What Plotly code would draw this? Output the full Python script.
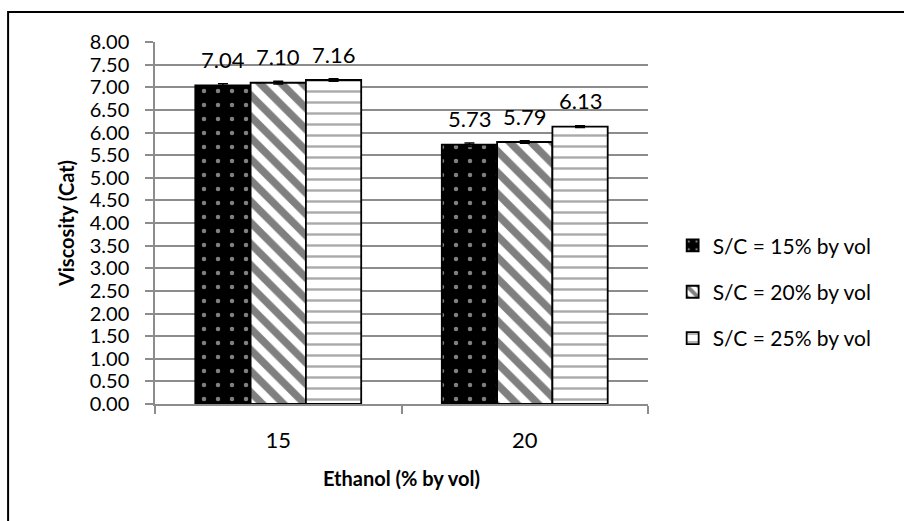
import plotly.graph_objects as go

# Chart data
ethanol = ["15", "20"]
series_names = ["S/C = 15% by vol", "S/C = 20% by vol", "S/C = 25% by vol"]
viscosity = [
    [7.04, 5.73],
    [7.10, 5.79],
    [7.16, 6.13],
]
errors = [
    [0.04, 0.04],
    [0.03, 0.03],
    [0.03, 0.02],
]
y_ticks = [i * 0.5 for i in range(17)]
y_tick_labels = [f"{v:.2f}" for v in y_ticks]

FONT = "Lato"
GRID = "#8c8c8c"

patterns = [
    dict(shape=".", bgcolor="black", fgcolor="white", size=14, solidity=0.08),
    dict(shape="\\", bgcolor="white", fgcolor="black", size=15, solidity=0.5),
    dict(shape="-", bgcolor="white", fgcolor="#555555", size=11, solidity=0.22),
]

BARGAP = 0.327
n = len(series_names)
bar_w = (1 - BARGAP) / n

fig = go.Figure()
for i, name in enumerate(series_names):
    fig.add_trace(go.Bar(
        name=name,
        legendgroup=f"g{i}",
        x=ethanol,
        y=viscosity[i],
        marker=dict(color="white", pattern=patterns[i],
                    line=dict(color="black", width=1.8)),
        error_y=dict(type="data", array=errors[i], color="black",
                     thickness=1.5, width=5),
    ))

# value labels above each bar
annotations = []
for i in range(n):
    offset = (i - (n - 1) / 2) * bar_w
    for j, v in enumerate(viscosity[i]):
        annotations.append(dict(
            x=j + offset, y=v, xref="x", yref="y",
            text=f"{v:.2f}", showarrow=False,
            yanchor="middle", yshift=26,
            font=dict(family=FONT, size=22, color="black"),
        ))

fig.update_layout(
    width=904, height=521,
    margin=dict(l=155, r=256, t=42, b=117),
    paper_bgcolor="white", plot_bgcolor="white",
    barmode="group", bargap=BARGAP, bargroupgap=0,
    font=dict(family=FONT, color="black"),
    showlegend=True,
    legend=dict(x=1.05, y=0.31, xanchor="left", yanchor="middle",
                font=dict(family=FONT, size=21, color="black"),
                itemwidth=30, tracegroupgap=16,
                bgcolor="rgba(0,0,0,0)"),
    annotations=annotations,
    shapes=[dict(type="rect", xref="paper", yref="paper",
                 x0=-0.298, y0=-0.34, x1=1.53, y1=1.083,
                 line=dict(color="black", width=2), layer="below")],
)

fig.update_yaxes(
    range=[0, 8], tickvals=y_ticks, ticktext=y_tick_labels,
    showgrid=True, gridcolor=GRID, gridwidth=1.5,
    showline=True, linecolor=GRID, linewidth=1.5,
    ticks="outside", ticklen=8, tickcolor=GRID, tickwidth=1.5,
    ticklabelstandoff=12,
    tickfont=dict(family=FONT, size=20, color="black"),
    title=dict(text="<b>Viscosity (Cat)</b>", standoff=10,
               font=dict(family=FONT, size=20, color="black")),
    zeroline=False,
)
fig.update_xaxes(
    type="category",
    showline=True, linecolor=GRID, linewidth=1.5,
    ticks="outside", ticklen=8, tickcolor=GRID, tickwidth=1.5,
    tickson="boundaries", ticklabelstandoff=16,
    tickfont=dict(family=FONT, size=22, color="black"),
    title=dict(text="<b>Ethanol (% by vol)</b>", standoff=20,
               font=dict(family=FONT, size=20, color="black")),
)

fig.write_html("out.html")
